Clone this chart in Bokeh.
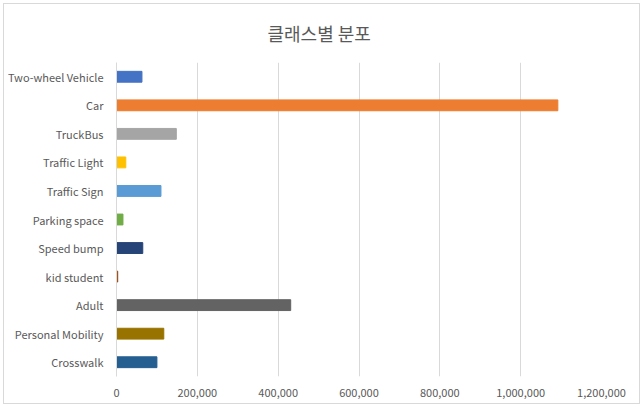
from bokeh.plotting import figure
from bokeh.models import FactorRange, Range1d, NumeralTickFormatter, ColumnDataSource, SingleIntervalTicker
from bokeh.embed import file_html
from bokeh.resources import INLINE

title_text = "클래스별 분포"
categories = ["Two-wheel Vehicle", "Car", "TruckBus", "Traffic Light", "Traffic Sign",
              "Parking space", "Speed bump", "kid student", "Adult", "Personal Mobility", "Crosswalk"]
values = [63000, 1092000, 148000, 23000, 110000, 16000, 65000, 3000, 431000, 117000, 100000]
colors = ["#4472C4", "#ED7D31", "#A5A5A5", "#FFC000", "#5B9BD5", "#70AD47",
          "#264478", "#9E480E", "#636363", "#997300", "#255E91"]

FONT = "Noto Sans CJK KR"
TXT = "#595959"

src = ColumnDataSource(dict(cat=categories, val=values, color=colors))

p = figure(width=637, height=401, output_backend="svg", toolbar_location=None,
           y_range=FactorRange(factors=list(reversed(categories))),
           x_range=Range1d(0, 1200000),
           min_border_left=100, min_border_right=40, min_border_top=58, min_border_bottom=29)
p.margin = (3, 0, 0, 3)
p.styles = {"border": "1px solid #d9d9d9"}
p.outline_line_color = None

p.title.text = title_text
p.title.align = "left"
p.title.offset = 151
p.title.standoff = 29
p.title.vertical_align = "top"
p.title.text_font = FONT
p.title.text_font_size = "18px"
p.title.text_font_style = "normal"
p.title.text_color = TXT

p.hbar(y="cat", right="val", left=0, height=0.38, color="color", source=src)

p.xaxis.ticker = SingleIntervalTicker(interval=200000)
p.xaxis.formatter = NumeralTickFormatter(format="0,0")
p.xaxis.axis_line_color = None
p.xaxis.major_tick_line_color = None
p.xaxis.minor_tick_line_color = None
p.xaxis.major_label_text_color = TXT
p.xaxis.major_label_text_font = FONT
p.xaxis.major_label_text_font_size = "11px"
p.xaxis.major_label_standoff = 6

p.yaxis.axis_line_color = "#d9d9d9"
p.yaxis.major_tick_line_color = None
p.yaxis.minor_tick_line_color = None
p.yaxis.major_label_text_color = TXT
p.yaxis.major_label_text_font = FONT
p.yaxis.major_label_text_font_size = "11px"
p.yaxis.major_label_standoff = 7

p.xgrid.grid_line_color = "#d9d9d9"
p.ygrid.grid_line_color = None

open("out.html", "w").write(file_html(p, INLINE))
